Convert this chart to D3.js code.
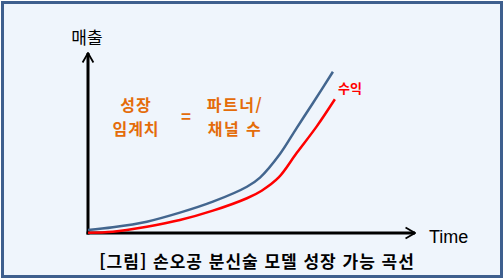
<!DOCTYPE html>
<html lang="ko">
<head>
<meta charset="utf-8">
<title>손오공 분신술 모델 성장 가능 곡선</title>
<script src="https://cdn.jsdelivr.net/npm/d3@7"></script>
<style>
  body { margin: 0; background: #ffffff; }
  .axis path { stroke: #000; stroke-width: 3; }
  .axis line { display: none; }
  .axis text { display: none; }
  text { font-family: "Noto Sans CJK KR", "Noto Sans", sans-serif; }
</style>
</head>
<body>
<div id="chart"></div>
<script>
// data (time 0-100, value 0-100)
var salesTime  = [0, 7.6, 18, 28.1, 38.2, 48.6, 52.6, 58.7, 63.8, 68.8, 74.9];
var salesValue = [1.7, 3.2, 6.3, 11.3, 17.4, 25.7, 30.8, 43.9, 58.3, 72.2, 89.6];
var profitTime  = [0, 7.6, 18, 28.1, 38.2, 48.6, 53.1, 58.4, 63.8, 69.9, 75.5];
var profitValue = [0.2, 0.7, 3.5, 7.2, 12.4, 19.3, 23.5, 31.0, 44.4, 59.1, 74.3];

var yLabel = "매출";
var xLabel = "Time";
var profitLabel = "수익";
var leftNote = ["성장", "임계치"];
var rightNote = ["파트너/", "채널 수"];
var caption = "[그림] 손오공 분신술 모델 성장 가능 곡선";

var width = 504, height = 279;

var svg = d3.select("#chart").append("svg")
    .attr("width", width)
    .attr("height", height);

// frame
svg.append("rect")
    .attr("x", 2.5).attr("y", 2.5)
    .attr("width", width - 5).attr("height", height - 5)
    .attr("fill", "#eff5fc")
    .attr("stroke", "#3e5f8e")
    .attr("stroke-width", 3);

var xScale = d3.scaleLinear().domain([0, 100]).range([88, 415]);
var yScale = d3.scaleLinear().domain([0, 100]).range([233, 53]);

// arrow heads
var defs = svg.append("defs");
defs.append("marker")
    .attr("id", "arrow")
    .attr("viewBox", "0 0 10 10")
    .attr("refX", 9).attr("refY", 5)
    .attr("markerWidth", 4.5).attr("markerHeight", 4.5)
    .attr("markerUnits", "strokeWidth")
    .attr("orient", "auto")
  .append("path")
    .attr("d", "M2,1L9,5L2,9")
    .attr("fill", "none")
    .attr("stroke", "#000")
    .attr("stroke-width", 1.3);

var xAxis = d3.axisBottom(xScale).ticks(0).tickSizeOuter(0);
var yAxis = d3.axisLeft(yScale).ticks(0).tickSizeOuter(0);

svg.append("g")
    .attr("class", "axis")
    .attr("transform", "translate(0," + yScale(0) + ")")
    .call(xAxis)
  .select(".domain")
    .attr("d", "M" + (xScale(0) - 1.5) + ",0H" + xScale(100))
    .attr("marker-end", "url(#arrow)");

svg.append("g")
    .attr("class", "axis")
    .attr("transform", "translate(" + xScale(0) + ",0)")
    .call(yAxis)
  .select(".domain")
    .attr("d", "M0," + (yScale(0) + 1.5) + "V" + yScale(100))
    .attr("marker-end", "url(#arrow)");

// curves
var line = d3.line()
    .x(function(d) { return xScale(d[0]); })
    .y(function(d) { return yScale(d[1]); })
    .curve(d3.curveCatmullRom);

svg.append("path")
    .datum(salesTime.map(function(t, i) { return [t, salesValue[i]]; }))
    .attr("d", line)
    .attr("fill", "none")
    .attr("stroke", "#43668f")
    .attr("stroke-width", 2.5);

svg.append("path")
    .datum(profitTime.map(function(t, i) { return [t, profitValue[i]]; }))
    .attr("d", line)
    .attr("fill", "none")
    .attr("stroke", "#ff0000")
    .attr("stroke-width", 2.5);

// labels
svg.append("text")
    .attr("x", 87).attr("y", 44)
    .attr("text-anchor", "middle")
    .style("font-size", "17px")
    .text(yLabel);

svg.append("text")
    .attr("x", 429).attr("y", 243)
    .style("font-family", "Arial, 'Liberation Sans', sans-serif")
    .style("font-size", "18px")
    .text(xLabel);

svg.append("text")
    .attr("x", 338).attr("y", 93)
    .attr("fill", "#ff0000")
    .style("font-size", "13px")
    .style("font-weight", "bold")
    .text(profitLabel);

var orange = "#e46c0a";
svg.selectAll(".leftNote")
    .data(leftNote)
  .enter().append("text")
    .attr("x", 136)
    .attr("y", function(d, i) { return 111 + i * 23.5; })
    .attr("text-anchor", "middle")
    .attr("fill", orange)
    .style("font-size", "16px")
    .style("font-weight", "bold")
    .style("letter-spacing", "1px")
    .text(function(d) { return d; });

svg.append("text")
    .attr("x", 186).attr("y", 123)
    .attr("text-anchor", "middle")
    .attr("fill", orange)
    .style("font-size", "17px")
    .style("font-weight", "bold")
    .text("=");

svg.selectAll(".rightNote")
    .data(rightNote)
  .enter().append("text")
    .attr("x", 235)
    .attr("y", function(d, i) { return 111 + i * 23.5; })
    .attr("text-anchor", "middle")
    .attr("fill", orange)
    .style("font-size", "16px")
    .style("font-weight", "bold")
    .style("letter-spacing", "1.5px")
    .text(function(d) { return d; });

svg.append("text")
    .attr("x", 257).attr("y", 268)
    .attr("text-anchor", "middle")
    .style("font-size", "17px")
    .style("font-weight", "bold")
    .style("letter-spacing", "1px")
    .text(caption);
</script>
</body>
</html>
